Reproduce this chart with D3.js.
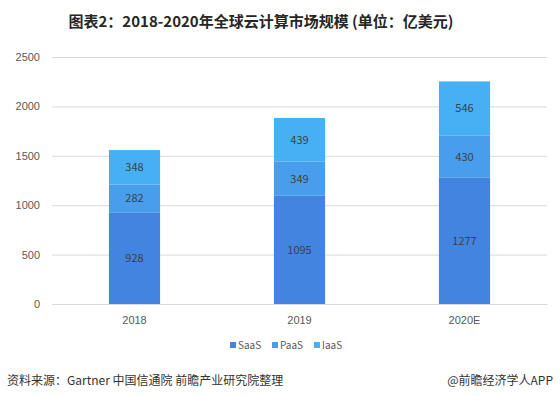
<!DOCTYPE html>
<html>
<head>
<meta charset="utf-8">
<script src="https://cdn.jsdelivr.net/npm/d3@7"></script>
<style>
    body { margin: 0; background: #fff; }
    svg { font-family: "Noto Sans CJK SC", "Noto Sans", sans-serif; }
</style>
</head>
<body>
<div id="chart"></div>
<script>
// Chart data
const years = ["2018", "2019", "2020E"];
const saas = [928, 1095, 1277];
const paas = [282, 349, 430];
const iaas = [348, 439, 546];
const seriesNames = ["SaaS", "PaaS", "IaaS"];
const yTicks = [0, 500, 1000, 1500, 2000, 2500];

const colors = ["#4285e0", "#499ded", "#47b0f4"];

const width = 560;
const height = 396;
const margin = { left: 52, right: 13, top: 57, bottom: 92 };

const svg = d3.select("#chart")
    .append("svg")
    .attr("width", width)
    .attr("height", height);

// Title
svg.append("text")
    .attr("x", 261)
    .attr("y", 27)
    .attr("text-anchor", "middle")
    .attr("font-size", 15)
    .attr("font-weight", "bold")
    .attr("fill", "#262626")
    .text("图表2：2018-2020年全球云计算市场规模 (单位：亿美元)");

// Stack the series
const rows = years.map((y, i) => ({ year: y, SaaS: saas[i], PaaS: paas[i], IaaS: iaas[i] }));
const stacked = d3.stack().keys(seriesNames)(rows);

const xScale = d3.scaleBand()
    .domain(years)
    .range([margin.left, width - margin.right])
    .paddingInner(0.69)
    .paddingOuter(0.345);

const yScale = d3.scaleLinear()
    .domain([0, 2500])
    .range([height - margin.bottom, margin.top]);

// Gridlines + y labels
const yAxis = d3.axisLeft(yScale)
    .tickValues(yTicks)
    .tickFormat(d3.format("d"))
    .tickSize(-(width - margin.left - margin.right))
    .tickPadding(12);

const gy = svg.append("g")
    .attr("transform", `translate(${margin.left}, 0)`)
    .call(yAxis);
gy.select(".domain").remove();
gy.selectAll(".tick line").attr("stroke", "#d9d9d9");
gy.selectAll(".tick text")
    .attr("font-size", 11)
    .attr("fill", "#595959");

// Bars
const layers = svg.selectAll("g.layer")
    .data(stacked)
    .enter()
    .append("g")
    .attr("class", "layer")
    .attr("fill", (d, i) => colors[i]);

layers.selectAll("rect")
    .data((d) => d)
    .enter()
    .append("rect")
    .attr("x", (d) => xScale(d.data.year))
    .attr("y", (d) => yScale(d[1]))
    .attr("width", xScale.bandwidth())
    .attr("height", (d) => yScale(d[0]) - yScale(d[1]));

// Value labels
layers.selectAll("text")
    .data((d) => d.map((v) => ({ v, key: d.key })))
    .enter()
    .append("text")
    .attr("x", (d) => xScale(d.v.data.year) + xScale.bandwidth() / 2)
    .attr("y", (d) => (yScale(d.v[0]) + yScale(d.v[1])) / 2 + 4)
    .attr("text-anchor", "middle")
    .attr("font-size", 11)
    .attr("fill", "#404040")
    .text((d) => d.v.data[d.key]);

// X axis
const xAxis = d3.axisBottom(xScale).tickSize(0).tickPadding(12);
const gx = svg.append("g")
    .attr("transform", `translate(0, ${yScale(0)})`)
    .call(xAxis);
gx.select(".domain").attr("stroke", "#d9d9d9");
gx.selectAll(".tick text")
    .attr("font-size", 11)
    .attr("fill", "#595959");

// Legend
const legendX = [230, 272, 314];
const legend = svg.append("g")
    .selectAll("g")
    .data(seriesNames)
    .enter()
    .append("g")
    .attr("transform", (d, i) => `translate(${legendX[i]}, 345)`);

legend.append("rect")
    .attr("x", 0)
    .attr("y", -3)
    .attr("width", 6)
    .attr("height", 6)
    .attr("fill", (d, i) => colors[i]);

legend.append("text")
    .attr("x", 8)
    .attr("y", 4)
    .attr("font-size", 10)
    .attr("fill", "#595959")
    .text((d) => d);

// Footer
svg.append("text")
    .attr("x", 7)
    .attr("y", 385)
    .attr("font-size", 12)
    .attr("fill", "#333")
    .text("资料来源：Gartner 中国信通院 前瞻产业研究院整理");

svg.append("text")
    .attr("x", 553)
    .attr("y", 385)
    .attr("text-anchor", "end")
    .attr("font-size", 12)
    .attr("fill", "#333")
    .text("@前瞻经济学人APP");
</script>
</body>
</html>
